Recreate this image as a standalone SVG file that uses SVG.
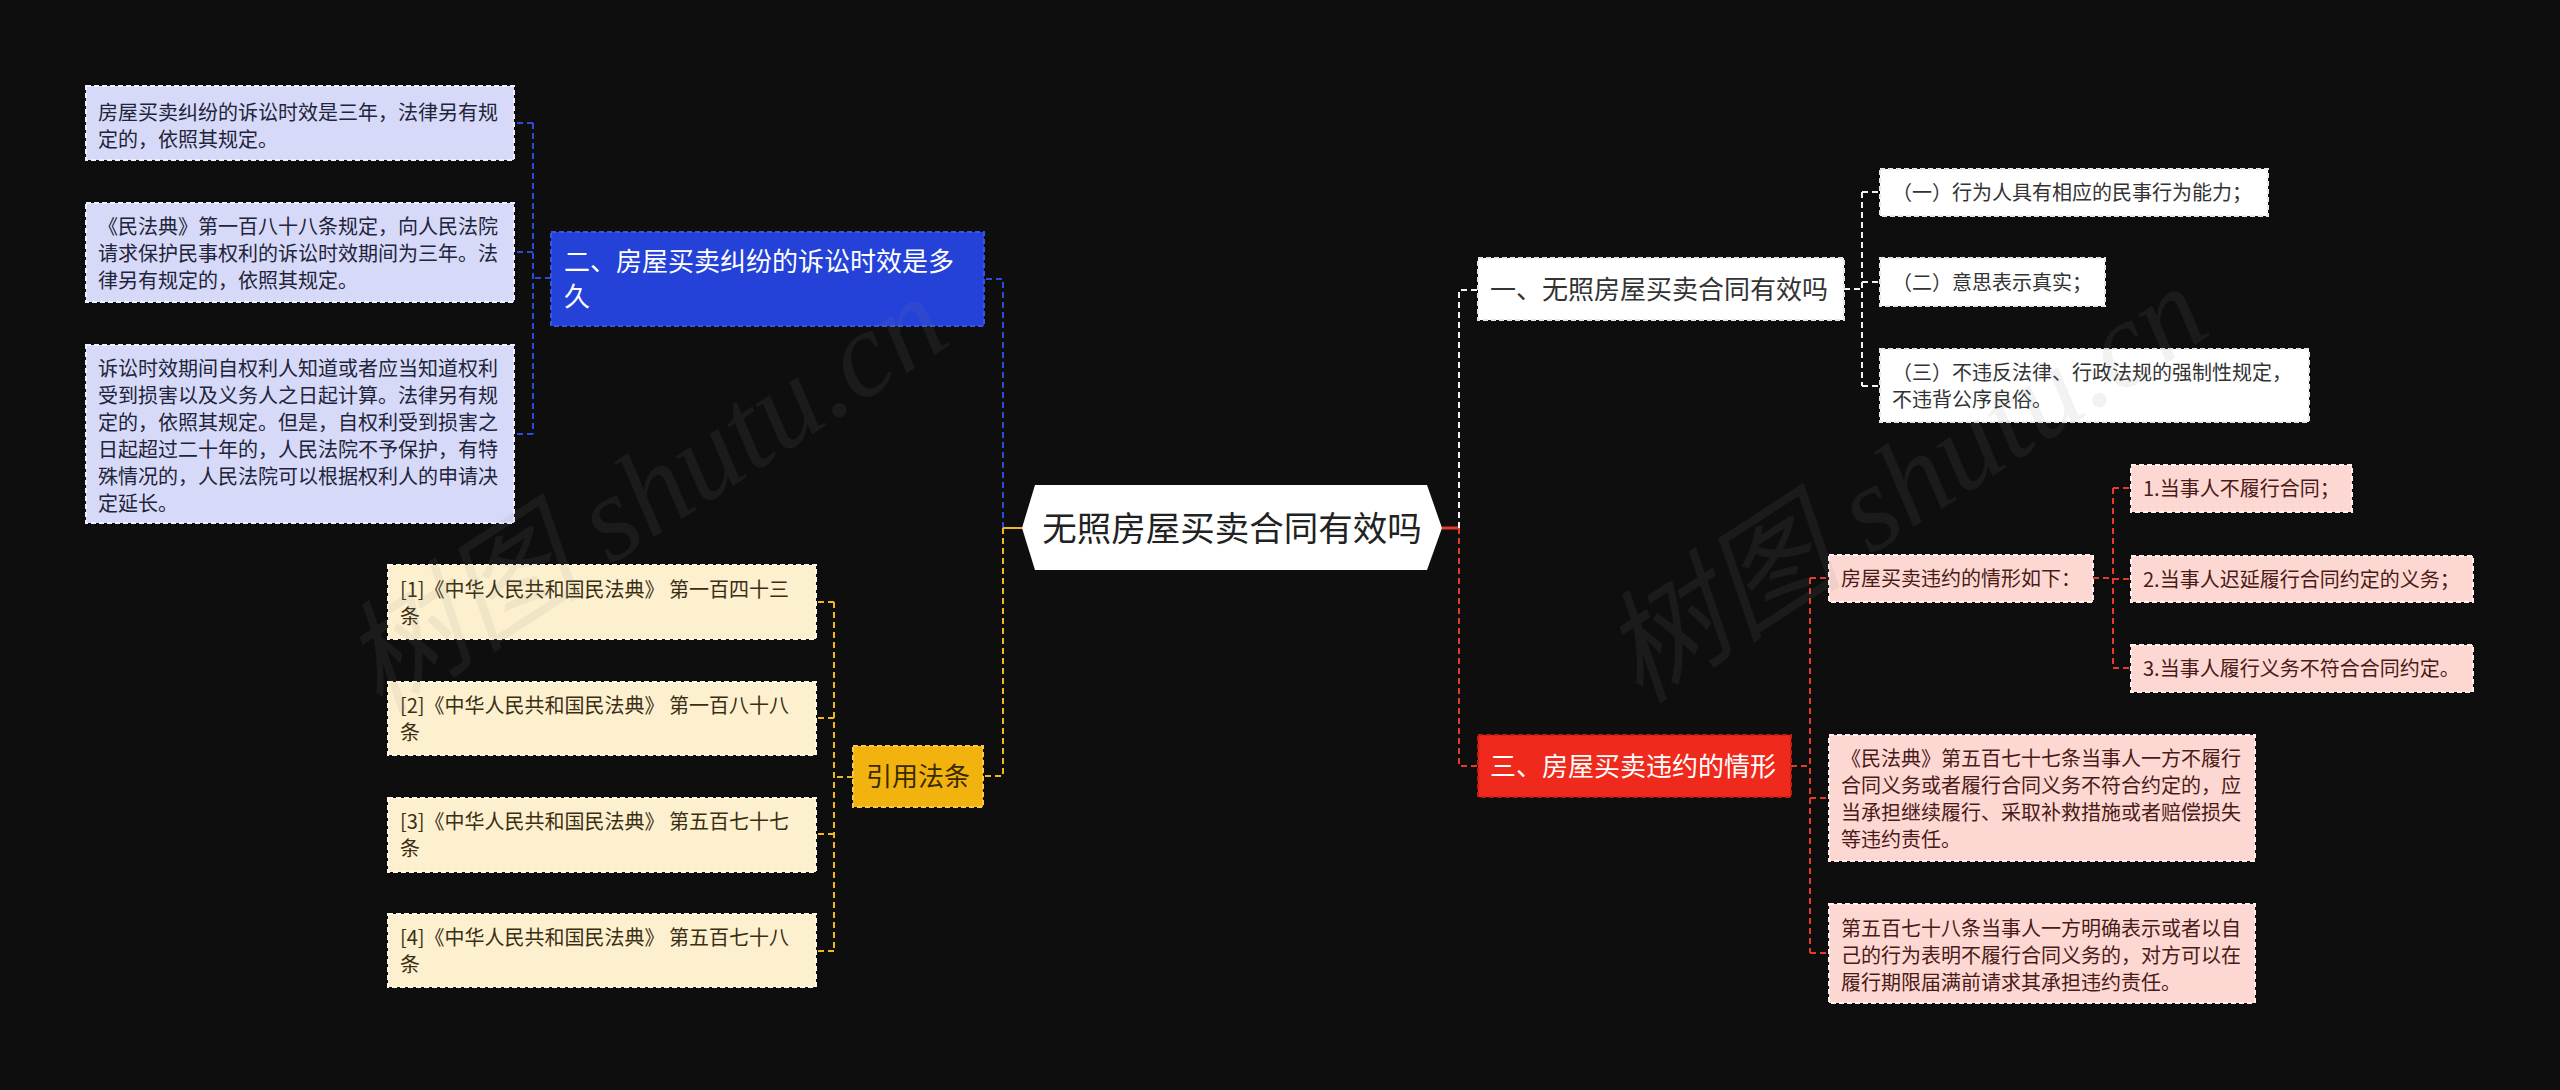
<svg xmlns="http://www.w3.org/2000/svg" width="2560" height="1090" viewBox="0 0 2560 1090">
<style>
text{font-family:"Noto Sans CJK SC","Noto Sans",sans-serif;}
.s{font-size:20px;}
.m{font-size:26px;}
.lav{fill:#d6daf8;stroke:#eef0ff;stroke-width:2;stroke-dasharray:5 3;}
.crm{fill:#fdf0cf;stroke:#fff8e6;stroke-width:2;stroke-dasharray:5 3;}
.wht{fill:#ffffff;stroke:#e8e8e8;stroke-width:2;stroke-dasharray:5 3;}
.pnk{fill:#fdd8d3;stroke:#fff0ee;stroke-width:2;stroke-dasharray:5 3;}
.blu{fill:#2441d8;stroke:#3a55e6;stroke-width:2;stroke-dasharray:5 3;}
.yel{fill:#f2b30f;stroke:#f8c84a;stroke-width:2;stroke-dasharray:5 3;}
.red{fill:#ef2a1c;stroke:#c91c10;stroke-width:2;stroke-dasharray:5 3;}
.tlav{fill:#23243a;}
.tcrm{fill:#3a2f14;}
.twht{fill:#333333;}
.tpnk{fill:#4a1a18;}
.tw{fill:#ffffff;}
.c{fill:none;stroke-width:2;stroke-dasharray:6 4;}
.cb{stroke:#2d4ad8;}
.cy{stroke:#f0b820;}
.cw{stroke:#f2f2f2;}
.cr{stroke:#e5392c;}
.wm{font-family:"Liberation Serif","Noto Sans CJK SC",serif;font-style:italic;font-size:122px;fill:#8a8a8a;opacity:0.1;}
</style>
<rect width="2560" height="1090" fill="#0e0e0e"/>

<g id="connectors">
  <path class="c cb" d="M1003,528 V279 H984"/>
  <path class="c cb" d="M551,278 H533 M533,123 V434 M533,123 H514 M533,252 H514 M533,434 H514"/>
  <path class="c cy" d="M1003,528 V776 H983"/>
  <path class="c cy" d="M853,777 H834 M834,602 V951 M834,602 H816 M834,718 H816 M834,834 H816 M834,951 H816"/>
  <path fill="none" stroke="#f0b820" stroke-width="2" d="M1022,528 H1003"/>
  <path fill="none" stroke="#e5392c" stroke-width="3" d="M1442,528 H1459"/>
  <path class="c cw" d="M1459,528 V290 H1478"/>
  <path class="c cr" d="M1459,528 V766 H1478"/>
  <path class="c cw" d="M1844,289 H1862 M1862,192 V386 M1862,192 H1880 M1862,282 H1880 M1862,386 H1880"/>
  <path class="c cr" d="M1791,766 H1810 M1810,578 V953 M1810,578 H1829 M1810,798 H1829 M1810,953 H1829"/>
  <path class="c cr" d="M2093,578 H2113 M2113,488 V668 M2113,488 H2131 M2113,579 H2131 M2113,668 H2131"/>
</g>

<g id="root">
  <polygon points="1022,528 1035,485 1427,485 1442,528 1427,570 1035,570" fill="#ffffff"/>
  <text x="1232" y="541" text-anchor="middle" style="font-size:34.5px" fill="#222222">无照房屋买卖合同有效吗</text>
</g>

<g id="b2">
  <rect class="blu" x="551" y="232" width="433" height="94"/>
  <text class="m tw" x="564" y="271">二、房屋买卖纠纷的诉讼时效是多</text>
  <text class="m tw" x="564" y="306">久</text>
</g>
<g id="a1">
  <rect class="lav" x="86" y="86" width="428" height="74"/>
  <text class="s tlav" x="98" y="120">房屋买卖纠纷的诉讼时效是三年，法律另有规</text>
  <text class="s tlav" x="98" y="147">定的，依照其规定。</text>
</g>
<g id="a2">
  <rect class="lav" x="86" y="203" width="428" height="99"/>
  <text class="s tlav" x="98" y="234">《民法典》第一百八十八条规定，向人民法院</text>
  <text class="s tlav" x="98" y="261">请求保护民事权利的诉讼时效期间为三年。法</text>
  <text class="s tlav" x="98" y="288">律另有规定的，依照其规定。</text>
</g>
<g id="a3">
  <rect class="lav" x="86" y="345" width="428" height="178"/>
  <text class="s tlav" x="98" y="376">诉讼时效期间自权利人知道或者应当知道权利</text>
  <text class="s tlav" x="98" y="403">受到损害以及义务人之日起计算。法律另有规</text>
  <text class="s tlav" x="98" y="430">定的，依照其规定。但是，自权利受到损害之</text>
  <text class="s tlav" x="98" y="457">日起超过二十年的，人民法院不予保护，有特</text>
  <text class="s tlav" x="98" y="484">殊情况的，人民法院可以根据权利人的申请决</text>
  <text class="s tlav" x="98" y="511">定延长。</text>
</g>

<g id="b4">
  <rect class="yel" x="853" y="746" width="130" height="61"/>
  <text class="m" x="866" y="786" fill="#3a2a00">引用法条</text>
</g>
<g id="r1">
  <rect class="crm" x="388" y="565" width="428" height="74"/>
  <text class="s tcrm" x="400" y="597">[1]《中华人民共和国民法典》 第一百四十三</text>
  <text class="s tcrm" x="400" y="624">条</text>
</g>
<g id="r2">
  <rect class="crm" x="388" y="682" width="428" height="73"/>
  <text class="s tcrm" x="400" y="713">[2]《中华人民共和国民法典》 第一百八十八</text>
  <text class="s tcrm" x="400" y="740">条</text>
</g>
<g id="r3">
  <rect class="crm" x="388" y="798" width="428" height="74"/>
  <text class="s tcrm" x="400" y="829">[3]《中华人民共和国民法典》 第五百七十七</text>
  <text class="s tcrm" x="400" y="856">条</text>
</g>
<g id="r4">
  <rect class="crm" x="388" y="914" width="428" height="73"/>
  <text class="s tcrm" x="400" y="945">[4]《中华人民共和国民法典》 第五百七十八</text>
  <text class="s tcrm" x="400" y="972">条</text>
</g>

<g id="b1">
  <rect class="wht" x="1478" y="258" width="366" height="62"/>
  <text class="m twht" x="1490" y="299">一、无照房屋买卖合同有效吗</text>
</g>
<g id="w1">
  <rect class="wht" x="1880" y="169" width="388" height="47"/>
  <text class="s twht" x="1892" y="200">（一）行为人具有相应的民事行为能力；</text>
</g>
<g id="w2">
  <rect class="wht" x="1880" y="258" width="225" height="48"/>
  <text class="s twht" x="1892" y="290">（二）意思表示真实；</text>
</g>
<g id="w3">
  <rect class="wht" x="1880" y="349" width="429" height="73"/>
  <text class="s twht" x="1892" y="380">（三）不违反法律、行政法规的强制性规定，</text>
  <text class="s twht" x="1892" y="407">不违背公序良俗。</text>
</g>

<g id="b3">
  <rect class="red" x="1478" y="735" width="313" height="62"/>
  <text class="m tw" x="1490" y="776">三、房屋买卖违约的情形</text>
</g>
<g id="p1">
  <rect class="pnk" x="1829" y="555" width="264" height="47"/>
  <text class="s tpnk" x="1841" y="586">房屋买卖违约的情形如下：</text>
</g>
<g id="q1">
  <rect class="pnk" x="2131" y="465" width="221" height="47"/>
  <text class="s tpnk" x="2143" y="496">1.当事人不履行合同；</text>
</g>
<g id="q2">
  <rect class="pnk" x="2131" y="556" width="342" height="46"/>
  <text class="s tpnk" x="2143" y="587">2.当事人迟延履行合同约定的义务；</text>
</g>
<g id="q3">
  <rect class="pnk" x="2131" y="645" width="342" height="47"/>
  <text class="s tpnk" x="2143" y="676">3.当事人履行义务不符合合同约定。</text>
</g>
<g id="p2">
  <rect class="pnk" x="1829" y="735" width="426" height="126"/>
  <text class="s tpnk" x="1841" y="766">《民法典》第五百七十七条当事人一方不履行</text>
  <text class="s tpnk" x="1841" y="793">合同义务或者履行合同义务不符合约定的，应</text>
  <text class="s tpnk" x="1841" y="820">当承担继续履行、采取补救措施或者赔偿损失</text>
  <text class="s tpnk" x="1841" y="847">等违约责任。</text>
</g>
<g id="p3">
  <rect class="pnk" x="1829" y="904" width="426" height="99"/>
  <text class="s tpnk" x="1841" y="936">第五百七十八条当事人一方明确表示或者以自</text>
  <text class="s tpnk" x="1841" y="963">己的行为表明不履行合同义务的，对方可以在</text>
  <text class="s tpnk" x="1841" y="990">履行期限届满前请求其承担违约责任。</text>
</g>

<g id="watermark">
  <text class="wm" transform="translate(380,715) rotate(-33)">树图 shutu.cn</text>
  <text class="wm" transform="translate(1640,705) rotate(-33)">树图 shutu.cn</text>
</g>
</svg>
